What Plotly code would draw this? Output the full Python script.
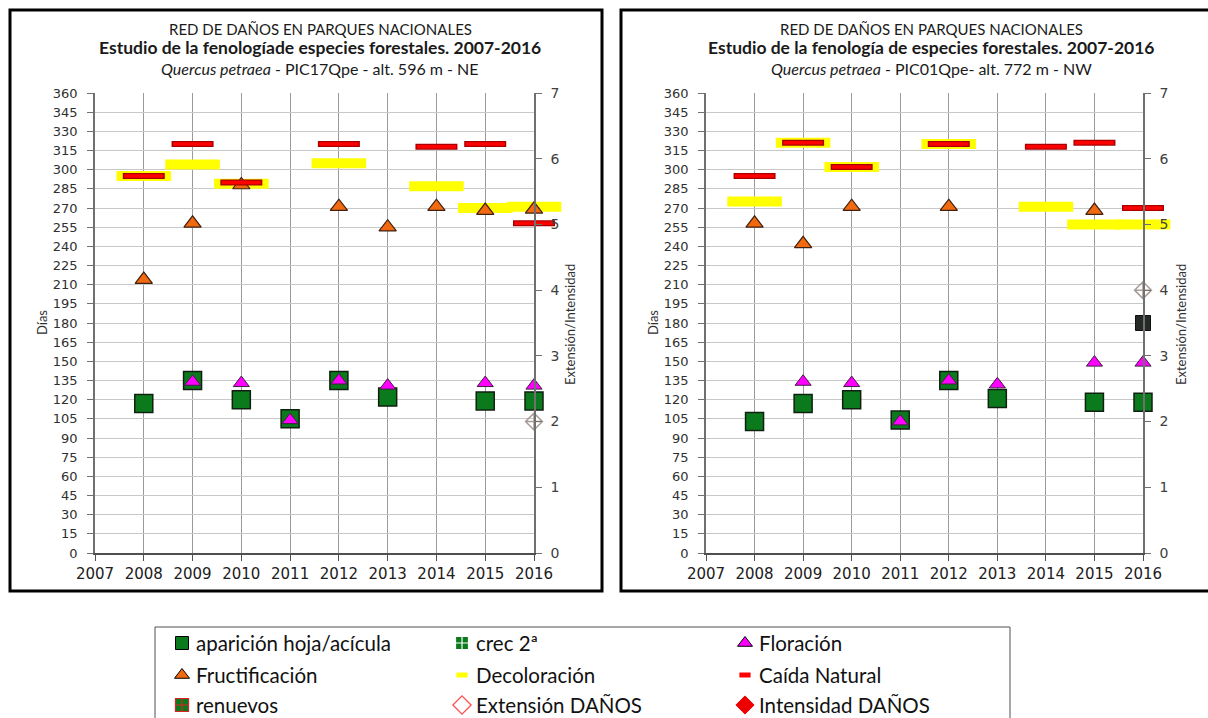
import plotly.graph_objects as go

years = [2008, 2009, 2010, 2011, 2012, 2013, 2014, 2015, 2016]

# Parcela PIC17Qpe (días del año)
p17_aparicion = [117, 135, 120, 105, 135, 122, None, 119, 119]
p17_floracion = [None, 134, 133, 104, 135, 131, None, 133, 131]
p17_fructificacion = [214, 258, 288, None, 271, 255, 271, 268, 269]
p17_decoloracion = [295, 304, 289, None, 305, None, 287, 270, 271]
p17_caida = [295, 320, 290, None, 320, None, 318, 320, 258]
p17_extension = [None, None, None, None, None, None, None, None, 2]

# Parcela PIC01Qpe (días del año)
p01_aparicion = [103, 117, 120, 104, 135, 121, None, 118, 118]
p01_crec2 = [None, None, None, None, None, None, None, None, 180]
p01_floracion = [None, 134, 133, 103, 135, 132, None, 149, 149]
p01_fructificacion = [258, 242, 271, None, 271, None, None, 268, None]
p01_decoloracion = [275, 321, 302, None, 320, None, 271, 257, 257]
p01_caida = [295, 321, 302, None, 320, None, 318, 321, 270]
p01_extension = [None, None, None, None, None, None, None, None, 4]

day_ticks = list(range(0, 361, 15))
int_ticks = list(range(0, 8))

legend_labels = ["aparición hoja/acícula", "crec 2ª", "Floración",
                 "Fructificación", "Decoloración", "Caída Natural",
                 "renuevos", "Extensión DAÑOS", "Intensidad DAÑOS"]

W, H = 1208, 718
GREEN = "#0b7a1c"
MAGENTA = "#ff00ff"
ORANGE = "#f26a10"
YELLOW = "#ffff00"
RED = "#ff0000"
DARKRED = "#a80000"


def px(x):
    return x / W


def py(y):
    return 1 - y / H


fig = go.Figure()


def add_panel(xa, ya, ya2, aparicion, floracion, fructificacion,
              decoloracion, caida, extension, crec2=None):
    common = dict(xaxis=xa, yaxis=ya, showlegend=False, cliponaxis=False,
                  mode="markers", hoverinfo="skip")
    fig.add_trace(go.Scatter(x=years, y=aparicion, **common,
                             marker=dict(symbol="square", size=18, color=GREEN,
                                         line=dict(color="#102010", width=1.5))))
    if crec2 is not None:
        fig.add_trace(go.Scatter(x=years, y=crec2, **common,
                                 marker=dict(symbol="square", size=15, color="#262a26",
                                             line=dict(color="#101010", width=1))))
    fig.add_trace(go.Scatter(x=years, y=floracion, **common,
                             marker=dict(symbol="triangle-up", size=14, color=MAGENTA,
                                         line=dict(color="#402040", width=1))))
    fig.add_trace(go.Scatter(x=years, y=decoloracion, **common,
                             marker=dict(symbol="line-ew", size=39,
                                         line=dict(color=YELLOW, width=10))))
    fig.add_trace(go.Scatter(x=years, y=fructificacion, **common,
                             marker=dict(symbol="triangle-up", size=15, color=ORANGE,
                                         line=dict(color="#402010", width=1.2))))
    fig.add_trace(go.Scatter(x=years, y=caida, **common,
                             marker=dict(symbol="line-ew", size=30,
                                         line=dict(color=DARKRED, width=6))))
    fig.add_trace(go.Scatter(x=years, y=caida, **common,
                             marker=dict(symbol="line-ew", size=28,
                                         line=dict(color=RED, width=3.5))))
    common2 = dict(common)
    common2["yaxis"] = ya2
    fig.add_trace(go.Scatter(x=years, y=extension, **common2,
                             marker=dict(symbol="diamond-cross-open", size=13,
                                         color="#a89c98", line=dict(width=1.5))))


add_panel("x", "y", "y2", p17_aparicion, p17_floracion, p17_fructificacion,
          p17_decoloracion, p17_caida, p17_extension)
add_panel("x2", "y3", "y4", p01_aparicion, p01_floracion, p01_fructificacion,
          p01_decoloracion, p01_caida, p01_extension, p01_crec2)

ydom = [py(553), py(93)]
xdoms = [[px(95), px(534)], [px(706), px(1143)]]

tickfont_y = dict(family="DejaVu Sans", size=13, color="#303030")
tickfont_x = dict(family="DejaVu Sans", size=15, color="#202020")

for i, (xa, ya, ya2) in enumerate([("xaxis", "yaxis", "yaxis2"),
                                    ("xaxis2", "yaxis3", "yaxis4")]):
    xname = "x" if i == 0 else "x2"
    yname = "y" if i == 0 else "y3"
    fig.layout[xa] = dict(domain=xdoms[i], range=[2007, 2016],
                          tickvals=list(range(2007, 2017)),
                          showgrid=True, gridcolor="#9a9a9a", gridwidth=1,
                          showline=True, linecolor="#505050", linewidth=1.5,
                          ticks="outside", ticklen=6, tickcolor="#505050",
                          tickfont=tickfont_x, anchor=yname, zeroline=False,
                          automargin=False, fixedrange=True)
    fig.layout[ya] = dict(domain=ydom, range=[0, 360], tickvals=day_ticks,
                          showgrid=True, gridcolor="#c8c8c8", gridwidth=1,
                          showline=True, linecolor="#707070", linewidth=1.5,
                          ticks="outside", ticklen=6, tickcolor="#707070",
                          tickfont=tickfont_y, anchor=xname, zeroline=False,
                          ticklabelstandoff=7,
                          automargin=False, fixedrange=True)
    fig.layout[ya2] = dict(domain=ydom, range=[0, 7], tickvals=int_ticks,
                           overlaying=yname, side="right", anchor=xname,
                           showgrid=False, showline=True, linecolor="#707070",
                           linewidth=1.5, ticks="outside", ticklen=6,
                           tickcolor="#707070", zeroline=False,
                           tickfont=dict(family="DejaVu Sans", size=14, color="#404040"),
                           ticklabelstandoff=6,
                           automargin=False, fixedrange=True)

# Subgráfico auxiliar para los símbolos de la leyenda (coordenadas en píxeles)
LEG_X0, LEG_X1, LEG_Y0 = 155, 1010, 627
fig.layout["xaxis3"] = dict(domain=[px(LEG_X0), px(LEG_X1)], range=[LEG_X0, LEG_X1],
                            visible=False, anchor="y5", fixedrange=True, automargin=False)
fig.layout["yaxis5"] = dict(domain=[0, py(LEG_Y0)], range=[H, LEG_Y0],
                            visible=False, anchor="x3", fixedrange=True, automargin=False)

shapes = []
for x0, x1 in [(10, 602), (621, 1214)]:
    shapes.append(dict(type="rect", xref="paper", yref="paper",
                       x0=px(x0), x1=px(x1), y0=py(10), y1=py(591),
                       line=dict(color="black", width=3)))
shapes.append(dict(type="rect", xref="paper", yref="paper",
                   x0=px(LEG_X0), x1=px(LEG_X1), y0=py(627), y1=py(722),
                   line=dict(color="#505050", width=1)))
fig.update_layout(shapes=shapes)

annotations = []
titles = [
    (320, "Estudio de la fenologíade especies forestales. 2007-2016",
     "<i>Quercus petraea</i> - PIC17Qpe - alt. 596 m - NE"),
    (931, "Estudio de la fenología de especies forestales. 2007-2016",
     "<i>Quercus petraea</i> - PIC01Qpe- alt. 772 m - NW"),
]


def note(x, y, text, size, family="Lato", color="#1a1a1a", xanchor="center", **kw):
    annotations.append(dict(x=px(x), y=py(y), xref="paper", yref="paper",
                            showarrow=False, text=text, xanchor=xanchor,
                            yanchor="middle",
                            font=dict(family=family, size=size, color=color), **kw))


for cx, t2, t3 in titles:
    note(cx, 29, "RED DE DAÑOS EN PARQUES NACIONALES", 15)
    note(cx, 48, "<b>" + t2 + "</b>", 17.5)
    note(cx, 68, t3, 16)

for lx, rx in [(42, 570), (653, 1181)]:
    note(lx, 323, "Días", 13, color="#303030", textangle=-90)
    note(rx, 325, "Extensión/Intensidad", 13, color="#303030", textangle=-90)

col_x = [182, 462, 745]
row_y = [643, 675, 705]
for k, text in enumerate(legend_labels):
    c, r = k % 3, k // 3
    note(col_x[c] + 12, row_y[r], text, 20.5, color="#111111", xanchor="left")
fig.update_layout(annotations=annotations)

legend_markers = [
    dict(symbol="square", size=13, color=GREEN, line=dict(color="black", width=1)),
    dict(symbol="square-cross", size=13, color=GREEN, line=dict(color="white", width=1.2)),
    dict(symbol="triangle-up", size=13, color=MAGENTA, line=dict(color="black", width=1)),
    dict(symbol="triangle-up", size=13, color=ORANGE, line=dict(color="black", width=1)),
    dict(symbol="line-ew", size=8, line=dict(color=YELLOW, width=5)),
    dict(symbol="line-ew", size=8, line=dict(color=RED, width=5)),
    dict(symbol="square-cross", size=13, color=GREEN, line=dict(color="#e02020", width=1.2)),
    dict(symbol="diamond-open", size=14, color="#ff5050", line=dict(width=1.3)),
    dict(symbol="diamond", size=14, color="#ee0000", line=dict(color="#ee0000", width=1)),
]
for k, mk in enumerate(legend_markers):
    c, r = k % 3, k // 3
    fig.add_trace(go.Scatter(x=[col_x[c]], y=[row_y[r]], xaxis="x3", yaxis="y5",
                             mode="markers", marker=mk, showlegend=False,
                             hoverinfo="skip", cliponaxis=False))

fig.update_layout(width=W, height=H, margin=dict(l=0, r=0, t=0, b=0, autoexpand=False),
                  paper_bgcolor="white", plot_bgcolor="rgba(0,0,0,0)",
                  showlegend=False)

fig.write_html("out.html", config={"displayModeBar": False})
